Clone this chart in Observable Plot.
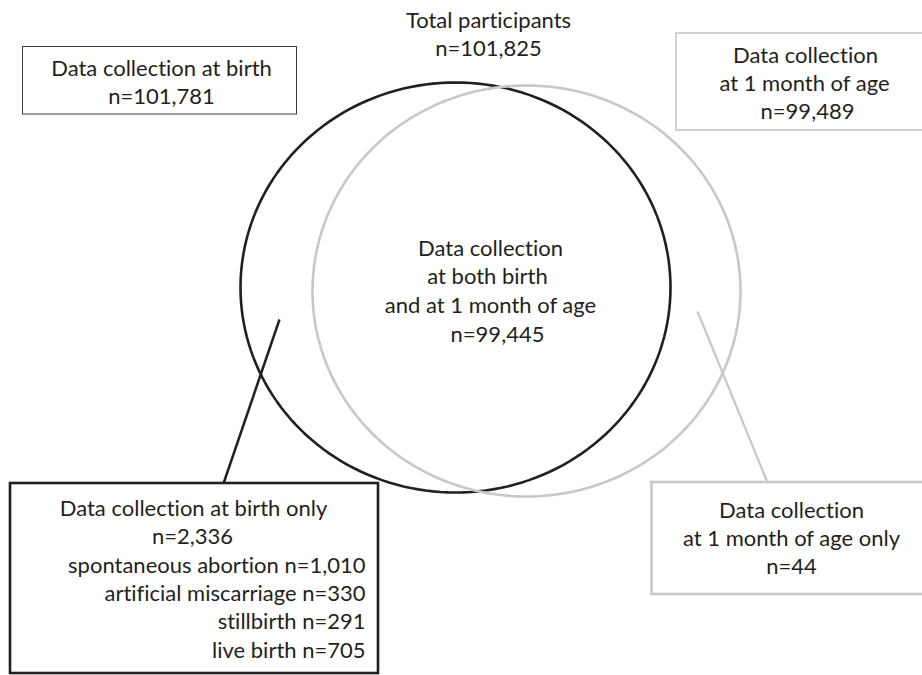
<!DOCTYPE html>
<html>
<head>
<meta charset="utf-8">
<script src="https://cdn.jsdelivr.net/npm/d3@7"></script>
<script src="https://cdn.jsdelivr.net/npm/@observablehq/plot@0.6"></script>
<style>
  html, body { margin: 0; padding: 0; background: #fff; overflow: hidden; }
  #chart svg { display: block; overflow: hidden; }
  #chart svg text { font-variant-ligatures: none; font-feature-settings: "liga" 0; }
</style>
</head>
<body>
<div id="chart"></div>
<script>
// ---------------- data ----------------
const totalLabel = "Total participants";
const totalCount = 101825;
const setLabels = ["Data collection at birth", "Data collection\nat 1 month of age"];
const setCounts = [101781, 99489];
const overlapLabel = "Data collection\nat both birth\nand at 1 month of age";
const overlapCount = 99445;
const onlyLabels = ["Data collection at birth only", "Data collection\nat 1 month of age only"];
const onlyCounts = [2336, 44];
const birthOnlyOutcomes = ["spontaneous abortion", "artificial miscarriage", "stillbirth", "live birth"];
const birthOnlyCounts = [1010, 330, 291, 705];

// ---------------- layout & style ----------------
const W = 922, H = 675;
const INK = "#231f20", GREY = "#c8c8c8";
const FONT = "Lato, 'Open Sans', sans-serif";
const fmt = d3.format(",");
const nLine = v => "n=" + fmt(v);

const ellipseLayout = [
  {set: "birth", cx: 455, cy: 287, rx: 215, ry: 205, stroke: INK},
  {set: "month", cx: 526, cy: 290.5, rx: 214, ry: 205.5, stroke: GREY}
];
const ellipsePts = ellipseLayout.flatMap(e =>
  d3.range(0, 180).map(i => {
    const t = (i / 180) * 2 * Math.PI;
    return {set: e.set, x: e.cx + e.rx * Math.cos(t), y: e.cy + e.ry * Math.sin(t)};
  })
);

const boxes = [
  {x1: 22.5, x2: 296.5, y1: 46.5, y2: 114, stroke: "#3c3c3c", sw: 1},
  {x1: 676, x2: 960, y1: 33, y2: 130, stroke: "#d0d0d0", sw: 2},
  {x1: 10, x2: 378, y1: 483, y2: 673, stroke: INK, sw: 2.6},
  {x1: 651.5, x2: 960, y1: 482, y2: 594, stroke: GREY, sw: 2.6}
];
const leaders = [
  {x1: 279, y1: 319, x2: 223, y2: 483, stroke: INK, sw: 2.5},
  {x1: 697, y1: 311, x2: 767, y2: 482, stroke: GREY, sw: 2.2}
];

// text lines: {text, x, y(baseline), anchor}
const lines = [];
function block(texts, xs, baselines, anchor = "middle") {
  texts.forEach((t, i) => lines.push({text: t, x: Array.isArray(xs) ? xs[i] : xs, y: baselines[i], anchor}));
}
block([totalLabel, nLine(totalCount)], 488, [27, 55]);
block([setLabels[0], nLine(setCounts[0])], 161, [75, 103]);
block([...setLabels[1].split("\n"), nLine(setCounts[1])], [805, 804, 807], [62, 90, 118]);
block([...overlapLabel.split("\n"), nLine(overlapCount)], [490, 487, 490, 497], [255, 283, 312, 341]);
block([...onlyLabels[1].split("\n"), nLine(onlyCounts[1])], 791, [517, 545, 573]);
block([onlyLabels[0], nLine(onlyCounts[0])], [193, 192], [515, 543]);
block(birthOnlyOutcomes.map((o, i) => o + " " + nLine(birthOnlyCounts[i])), 365, [572, 600, 628, 657], "end");

const chart = Plot.plot({
  width: W,
  height: H,
  margin: 0,
  x: {domain: [0, W], range: [0, W], axis: null},
  y: {domain: [0, H], range: [0, H], axis: null},
  style: {fontFamily: FONT, background: "#fff", overflow: "hidden"},
  marks: [
    Plot.line(ellipsePts.filter(d => d.set === "birth"), {x: "x", y: "y", curve: "linear-closed", stroke: INK, strokeWidth: 2.6}),
    Plot.line(ellipsePts.filter(d => d.set === "month"), {x: "x", y: "y", curve: "linear-closed", stroke: GREY, strokeWidth: 2.6}),
    ...leaders.map(l => Plot.link([l], {x1: "x1", y1: "y1", x2: "x2", y2: "y2", stroke: l.stroke, strokeWidth: l.sw})),
    ...boxes.map(b => Plot.rect([b], {x1: "x1", x2: "x2", y1: "y1", y2: "y2", fill: "none", stroke: b.stroke, strokeWidth: b.sw, clip: true})),
    ...["middle", "end"].map(a =>
      Plot.text(lines.filter(d => d.anchor === a), {
        x: "x", y: "y", text: "text", textAnchor: a, lineAnchor: "bottom",
        fontSize: 22, fill: INK
      })
    )
  ]
});
document.getElementById("chart").appendChild(chart);
</script>
</body>
</html>
